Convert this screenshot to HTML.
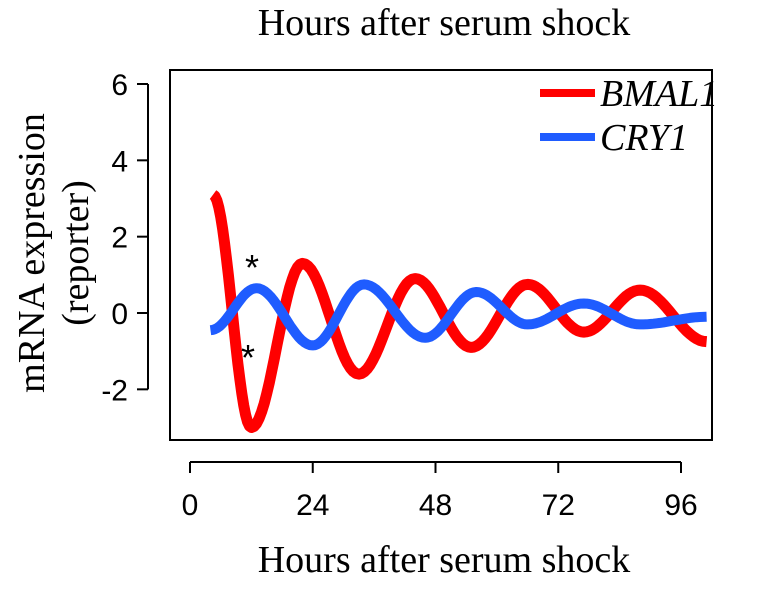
<!DOCTYPE html>
<html><head><meta charset="utf-8"><style>
body{margin:0;background:#fff}
svg{display:block}
</style></head><body>
<svg id="chart" width="758" height="595" font-family="Liberation Sans, sans-serif">
<text x="444" y="35" font-family="Liberation Serif, serif" font-size="38" text-anchor="middle">Hours after serum shock</text>
<text x="444" y="572" font-family="Liberation Serif, serif" font-size="38" text-anchor="middle">Hours after serum shock</text>
<g font-family="Liberation Serif, serif" font-size="38" text-anchor="middle">
<text transform="translate(44,253) rotate(-90)">mRNA expression</text>
<text transform="translate(88,253) rotate(-90)">(reporter)</text>
</g>
<rect x="170" y="70" width="542" height="370" fill="none" stroke="#000" stroke-width="2"/>
<g id="xaxis"></g>
<g id="yaxis"></g>
<g id="series"></g>
<text x="252" y="280" font-size="36" text-anchor="middle">*</text>
<text x="248" y="370" font-size="36" text-anchor="middle">*</text>
<g>
<line x1="540" y1="93" x2="595" y2="93" stroke="#f00" stroke-width="8"/>
<text x="600" y="106" font-family="Liberation Serif, serif" font-style="italic" font-size="38">BMAL1</text>
<line x1="540" y1="137" x2="595" y2="137" stroke="#1f5cff" stroke-width="8"/>
<text x="600" y="150" font-family="Liberation Serif, serif" font-style="italic" font-size="38">CRY1</text>
</g>
</svg>
<script>
const xTicks=[0,24,48,72,96];
const yTicks=[-2,0,2,4,6];
const bmalHours=[4.5,12,22,33,44,55,66,77,88,101];
const bmalValues=[3.1,-3.0,1.3,-1.6,0.9,-0.9,0.75,-0.5,0.6,-0.75];
const cryHours=[4,13,24,34,46,56,66,77,88,101];
const cryValues=[-0.45,0.65,-0.85,0.75,-0.65,0.55,-0.3,0.25,-0.3,-0.1];

const NS='http://www.w3.org/2000/svg';
const xs=h=>190+h*(681-190)/96;
const ys=v=>313-v*(313-84)/6;
function el(t,a,p){const e=document.createElementNS(NS,t);for(const k in a)e.setAttribute(k,a[k]);p.appendChild(e);return e;}
const xa=document.getElementById('xaxis'),ya=document.getElementById('yaxis'),sg=document.getElementById('series');
el('line',{x1:xs(xTicks[0]),x2:xs(xTicks[xTicks.length-1]),y1:462,y2:462,stroke:'#000','stroke-width':2},xa);
xTicks.forEach(t=>{
 const l=el('line',{x1:xs(t),x2:xs(t),y1:462,y2:473,stroke:'#000','stroke-width':2},xa);
 
 
 const tx=el('text',{x:xs(t),y:515,'font-size':30,'text-anchor':'middle'},xa);tx.textContent=t;
 
 
});
el('line',{x1:148,x2:148,y1:ys(yTicks[0]),y2:ys(yTicks[yTicks.length-1]),stroke:'#000','stroke-width':2},ya);
yTicks.forEach(t=>{
 const l=el('line',{x1:137,x2:148,y1:ys(t),y2:ys(t),stroke:'#000','stroke-width':2},ya);
 
 
 const tx=el('text',{x:128,y:ys(t)+11,'font-size':30,'text-anchor':'end'},ya);tx.textContent=t;
 
 
});
function curve(H,V){
 let d='';
 for(let i=0;i<H.length-1;i++){
  for(let s=0;s<=20;s++){
   const f=s/20,w=(1-Math.cos(Math.PI*f))/2;
   const h=H[i]+(H[i+1]-H[i])*f,v=V[i]+(V[i+1]-V[i])*w;
   d+=(d?'L':'M')+xs(h).toFixed(1)+','+ys(v).toFixed(1);
  }
 }
 return d;
}
const b=el('path',{d:curve(bmalHours,bmalValues),fill:'none',stroke:'#f00','stroke-width':11,'stroke-linejoin':'round'},sg);


const c=el('path',{d:curve(cryHours,cryValues),fill:'none',stroke:'#1f5cff','stroke-width':10,'stroke-linejoin':'round'},sg);


</script>
</body></html>
